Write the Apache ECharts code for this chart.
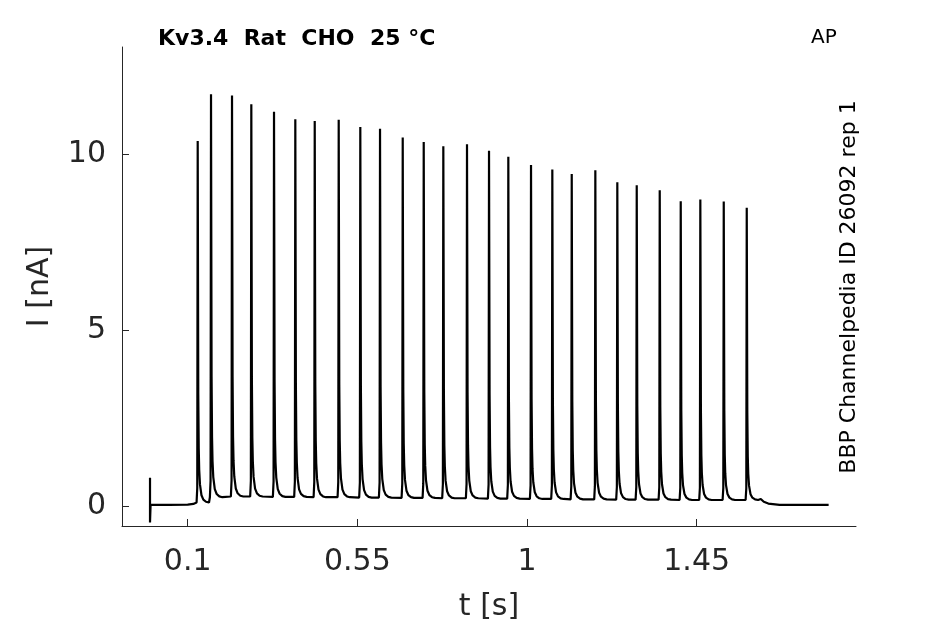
<!DOCTYPE html>
<html>
<head>
<meta charset="utf-8">
<script src="https://cdn.jsdelivr.net/npm/echarts@6/dist/echarts.min.js"></script>
<style>html,body{margin:0;padding:0;background:#fff}#c{width:945px;height:624px}</style>
</head>
<body>
<div id="c"></div>
<script>
// ---- data ----
const xTicks = [0.1, 0.55, 1, 1.45];
const yTicks = [0, 5, 10];
const spikeTimes = [0.1265, 0.1618, 0.2175, 0.2687, 0.3289, 0.3854, 0.4369, 0.5005, 0.5578, 0.6101,
  0.6703, 0.7260, 0.7780, 0.8408, 0.8992, 0.9504, 1.0106, 1.0671, 1.1186, 1.1812,
  1.2395, 1.2910, 1.3520, 1.4077, 1.4597, 1.5218, 1.5828];
const spikePeaks = [10.37, 11.70, 11.66, 11.41, 11.20, 10.99, 10.94, 10.97, 10.77, 10.72,
  10.47, 10.34, 10.22, 10.28, 10.09, 9.92, 9.69, 9.56, 9.43, 9.54,
  9.20, 9.11, 8.97, 8.66, 8.71, 8.65, 8.47];
const spikeBase = [0.10, 0.25, 0.27, 0.27, 0.26, 0.26, 0.25, 0.25, 0.24, 0.24,
  0.23, 0.23, 0.22, 0.22, 0.21, 0.21, 0.20, 0.20, 0.19, 0.19,
  0.18, 0.18, 0.18, 0.17, 0.17, 0.17, 0.17];
// spike waveform: time offset from peak [s], fraction of height above base
const shapeDt   = [-0.003, -0.0012, 0, 0.0015, 0.0027, 0.004, 0.006, 0.010, 0.015, 0.022, 0.030];
const shapeFrac = [0, 0.04, 1, 0.30, 0.15, 0.09, 0.05, 0.02, 0.008, 0.002, 0];
// trace before stimulus (incl. capacitive transient at t=0) and after the train
const preT = [0, 0, 0.0015, 0.05, 0.10, 0.115, 0.1235];
const preV = [0.8, -0.47, 0.03, 0.03, 0.04, 0.06, 0.10];
const postT = [1.620, 1.628, 1.640, 1.670, 1.720, 1.800];
const postV = [0.20, 0.12, 0.07, 0.03, 0.03, 0.03];

// ---- build series ----
const trace = [];
preT.forEach((t, i) => trace.push([t, preV[i]]));
spikeTimes.forEach((ts, k) => {
  const b = spikeBase[k], h = spikePeaks[k] - b;
  shapeDt.forEach((dt, j) => trace.push([ts + dt, b + shapeFrac[j] * h]));
});
postT.forEach((t, i) => trace.push([t, postV[i]]));

const txt = '#262626';
const chart = echarts.init(document.getElementById('c'));
chart.setOption({
  animation: false,
  backgroundColor: '#fff',
  grid: { left: 122, right: 89, top: 47, bottom: 98, outerBoundsMode: 'none', containLabel: false },
  xAxis: {
    type: 'value', min: -0.0743, max: 1.8726,
    name: 't [s]', nameLocation: 'middle', nameGap: 66,
    nameTextStyle: { fontFamily: 'DejaVu Sans', fontSize: 30, color: txt },
    axisLine: { show: true, onZero: false, lineStyle: { color: txt, width: 1 } },
    axisTick: { show: true, inside: true, length: 7, customValues: xTicks, lineStyle: { color: txt } },
    axisLabel: { customValues: xTicks, fontFamily: 'DejaVu Sans', fontSize: 30, color: txt, margin: 21 },
    splitLine: { show: false }
  },
  yAxis: {
    type: 'value', min: -0.568, max: 13.04,
    name: 'I [nA]', nameLocation: 'middle', nameGap: 67, nameRotate: 90,
    nameTextStyle: { fontFamily: 'DejaVu Sans', fontSize: 30, color: txt },
    axisLine: { show: true, onZero: false, lineStyle: { color: txt, width: 1 } },
    axisTick: { show: true, inside: true, length: 7, customValues: yTicks, lineStyle: { color: txt } },
    axisLabel: { customValues: yTicks, fontFamily: 'DejaVu Sans', fontSize: 30, color: txt, margin: 16,
      padding: [4, 0, 0, 0] },
    splitLine: { show: false }
  },
  series: [{
    type: 'line', data: trace, showSymbol: false, symbol: 'none',
    lineStyle: { color: '#000', width: 2.2 }, sampling: null, z: 3
  }],
  graphic: [
    { type: 'text', left: 158, top: 28,
      style: { text: 'Kv3.4  Rat  CHO  25 °C', font: 'bold 22px "DejaVu Sans"', fill: '#000' } },
    { type: 'text', left: 811, top: 28,
      style: { text: 'AP', font: '20px "DejaVu Sans"', fill: '#000' } },
    { type: 'text', x: 849, y: 287, rotation: Math.PI / 2,
      style: { text: 'BBP Channelpedia ID 26092 rep 1', font: '22px "DejaVu Sans"', fill: '#000',
        align: 'center', verticalAlign: 'middle' } }
  ]
});
</script>
</body>
</html>
